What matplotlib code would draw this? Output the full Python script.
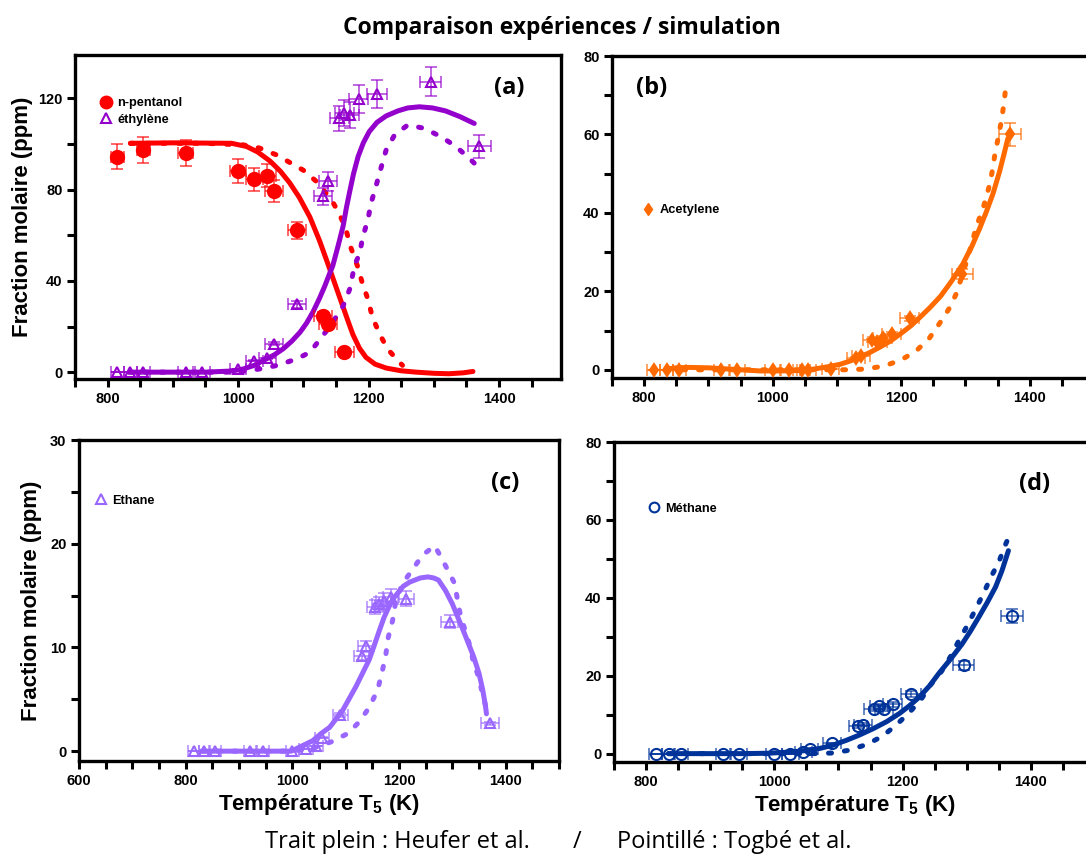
import numpy as np
import matplotlib
matplotlib.use('Agg')
import matplotlib.pyplot as plt
from matplotlib.ticker import MultipleLocator
from matplotlib.lines import Line2D

# Experimental temperatures (K)
T_exp = [815, 835, 855, 920, 945, 1000, 1025, 1045, 1055, 1090, 1130, 1138,
         1155, 1163, 1171, 1185, 1213, 1295, 1370]

# Measured mole fractions (ppm)
T_pentanol = [815, 855, 920, 1000, 1025, 1045, 1055, 1090, 1130, 1138, 1163]
pentanol = [94.5, 97.4, 96.0, 88.0, 84.6, 86.1, 79.5, 62.1, 24.7, 21.1, 8.7]
ethylene = [0, 0, 0, 0, 0, 1.5, 5.0, 6.0, 12.4, 29.8, 77.0, 83.6,
            111.3, 113.4, 112.7, 119.7, 121.9, 127.2, 98.9]
acetylene = [0, 0, 0, 0, 0, 0, 0, 0, 0, 0.3, 3.0, 3.6,
             7.5, 7.2, 8.1, 9.2, 13.1, 24.4, 60.0]
ethane = [0, 0, 0, 0, 0, 0, 0.2, 0.5, 1.3, 3.5, 9.2, 10.1,
          13.9, 14.2, 14.5, 14.9, 14.7, 12.5, 2.7]
methane = [0, 0, 0, 0, 0, 0, 0, 0.4, 1.3, 2.6, 7.0, 7.4,
           11.5, 12.1, 11.5, 12.7, 15.2, 22.7, 35.3]

# Simulations: solid = Heufer et al., dotted = Togbe et al.
T_pent_heufer = [835, 900, 990, 1013, 1030, 1049, 1065, 1079, 1094, 1110, 1125,
                 1137, 1145, 1153, 1161, 1169, 1176, 1186, 1196, 1210, 1227, 1250,
                 1273, 1300, 1323, 1345, 1360]
pent_heufer = [100.3, 100.5, 100.3, 98.9, 96.5, 92.5, 88.0, 83.0, 76.5, 68.0, 57.5,
               48.0, 41.5, 35.0, 28.5, 22.0, 16.5, 10.5, 6.5, 3.5, 1.8, 0.6,
               0.0, -0.5, -0.7, -0.3, 0.3]
T_pent_togbe = [835, 950, 1008, 1033, 1059, 1100, 1120, 1143, 1156, 1166, 1173,
                1183, 1191, 1199, 1206, 1217, 1229, 1247, 1252]
pent_togbe = [100.3, 100.3, 99.6, 98.2, 95.2, 88.5, 83.6, 75.6, 69.0, 61.8, 54.5,
              46.5, 38.5, 32.0, 24.0, 16.7, 10.2, 4.4, 3.0]
T_eth_heufer = [833, 950, 990, 1008, 1025, 1038, 1055, 1069, 1082, 1095, 1105,
                1115, 1125, 1133, 1140, 1145, 1153, 1161, 1166, 1171, 1177, 1184,
                1192, 1201, 1213, 1227, 1245, 1260, 1278, 1298, 1318, 1340, 1362]
eth_heufer = [0, 0, 0.5, 1.4, 3.0, 5.0, 7.5, 10.2, 13.5, 17.5, 21.5,
              26.5, 32.5, 37.8, 43.0, 46.5, 55.0, 64.0, 72.0, 79.0, 87.0, 94.5,
              100.5, 105.4, 109.5, 112.3, 114.5, 115.8, 116.3, 115.8, 114.5, 112.0, 109.0]
T_eth_togbe = [833, 1000, 1033, 1059, 1090, 1110, 1130, 1145, 1161, 1171, 1179,
               1186, 1191, 1199, 1204, 1212, 1219, 1227, 1240, 1260, 1285, 1311,
               1334, 1357, 1362]
eth_togbe = [0, 0, 1.4, 2.9, 5.8, 8.7, 16.0, 21.8, 29.0, 36.3, 47.3,
             51.6, 59.0, 66.9, 74.2, 82.2, 89.4, 97.4, 104.0, 108.3, 106.9, 103.2,
             98.9, 93.0, 91.6]
T_acet_heufer = [835, 850, 870, 900, 920, 950, 980, 1010, 1040, 1065, 1087,
                 1105, 1120, 1135, 1150, 1165, 1183, 1200, 1215, 1230, 1245, 1261,
                 1278, 1296, 1310, 1322, 1333, 1343, 1353, 1360, 1366]
acet_heufer = [0.2, 0.5, 0.6, 0.5, 0.3, 0.0, -0.3, -0.3, -0.2, 0.2, 0.8,
               1.4, 2.2, 3.2, 4.3, 5.6, 7.3, 9.3, 11.2, 13.5, 15.9, 18.7,
               22.5, 27.0, 31.5, 36.0, 40.5, 45.0, 50.5, 55.0, 59.0]
T_acet_togbe = [835, 1000, 1090, 1118, 1146, 1174, 1200, 1224, 1244, 1260, 1275,
                1286, 1304, 1317, 1328, 1336, 1341, 1346, 1351, 1356, 1360, 1363]
acet_togbe = [0, 0, 0, 0, 0.2, 1.0, 2.5, 4.9, 8.1, 11.9, 15.7,
              19.5, 28.8, 36.5, 41.5, 46.2, 50.0, 55.1, 59.2, 63.6, 68.0, 72.5]
T_c2h6_heufer = [830, 900, 998, 1038, 1054, 1070, 1094, 1119, 1144, 1153, 1163,
                 1172, 1181, 1189, 1197, 1208, 1220, 1240, 1254, 1265, 1274, 1287,
                 1300, 1320, 1340, 1350, 1357, 1362, 1364]
c2h6_heufer = [0, 0, 0, 1.0, 1.7, 2.3, 3.9, 6.2, 8.8, 10.1, 11.6,
               12.9, 13.9, 14.7, 15.2, 15.9, 16.3, 16.7, 16.8, 16.7, 16.5, 15.5,
               14.2, 11.7, 9.1, 7.5, 5.9, 4.4, 3.6]
T_c2h6_togbe = [830, 1000, 1040, 1073, 1104, 1125, 1144, 1160, 1169, 1175, 1180,
                1188, 1194, 1207, 1224, 1244, 1267, 1284, 1304, 1314, 1324, 1334,
                1340, 1347, 1357, 1364]
c2h6_togbe = [0, 0, 0.3, 0.9, 1.7, 2.8, 4.2, 5.9, 7.8, 9.2, 11.0,
              12.6, 14.5, 16.2, 17.4, 18.9, 19.8, 18.2, 16.2, 13.4, 11.6, 10.0,
              8.4, 7.5, 5.5, 4.0]
T_ch4_heufer = [835, 950, 990, 1024, 1050, 1070, 1090, 1112, 1133, 1154, 1175,
                1195, 1210, 1226, 1242, 1257, 1275, 1293, 1306, 1319, 1332, 1345,
                1355, 1365]
ch4_heufer = [0, 0, 0.1, 0.4, 0.8, 1.3, 2.1, 3.4, 4.8, 6.4, 8.2,
              10.3, 12.2, 14.5, 17.4, 20.7, 24.3, 28.2, 31.5, 35.1, 38.8, 42.8,
              47.0, 52.1]
T_ch4_togbe = [835, 1000, 1060, 1089, 1116, 1143, 1168, 1189, 1209, 1228, 1243,
               1261, 1275, 1288, 1301, 1313, 1326, 1338, 1350, 1361, 1364]
ch4_togbe = [0, 0, 0, 0.15, 0.85, 2.3, 4.4, 7.2, 10.3, 13.7, 17.5,
             21.2, 25.0, 29.1, 32.9, 36.8, 41.1, 45.4, 49.2, 53.9, 55.0]

RED = '#ff0000'
PURPLE = '#9400cc'
ORANGE = '#ff6a00'
LILAC = '#9966ff'
NAVY = '#003399'

W, H = 1086, 855
DOTS = (0, (0.6, 2.6))


def px_axes(fig, left, right, top, bottom):
    return fig.add_axes([left / W, 1 - bottom / H, (right - left) / W, (bottom - top) / H])


def draw_exp(ax, T, y, color, marker, ms, filled, rel_err):
    T = np.array(T, dtype=float)
    y = np.array(y, dtype=float)
    ax.errorbar(T, y, xerr=0.0125 * T, yerr=rel_err * y, fmt='none', ecolor=color,
                elinewidth=1.2, capsize=4, capthick=1.2, alpha=0.7, zorder=3)
    ax.plot(T, y, linestyle='none', marker=marker, ms=ms, color=color,
            mfc=color if filled else 'none', mew=1.5, zorder=4)


def draw_sim(ax, T1, y1, T2, y2, color):
    ax.plot(T1, y1, color=color, lw=3.6, solid_capstyle='round',
            solid_joinstyle='round', zorder=2)
    ax.plot(T2, y2, color=color, lw=3.6, linestyle=DOTS, dash_capstyle='round', zorder=2)


def style_axes(ax, xlim, ylim, ymaj, ymin):
    ax.set_xlim(xlim)
    ax.set_ylim(ylim)
    ax.xaxis.set_major_locator(MultipleLocator(200))
    ax.xaxis.set_minor_locator(MultipleLocator(50))
    ax.yaxis.set_major_locator(MultipleLocator(ymaj))
    ax.yaxis.set_minor_locator(MultipleLocator(ymin))
    ax.tick_params(which='both', direction='out', width=2.2, length=6, labelsize=10.5, pad=3)
    for lab in ax.get_xticklabels() + ax.get_yticklabels():
        lab.set_fontweight('bold')
    for s in ax.spines.values():
        s.set_linewidth(2.4)


def add_legend(ax, handles, x, y):
    ax.legend(handles=handles, loc='upper left', bbox_to_anchor=(x, y), frameon=False,
              prop={'weight': 'bold', 'size': 9.2}, handletextpad=0.4, handlelength=1.0,
              borderpad=0, borderaxespad=0, labelspacing=0.35)


def panel_tag(ax, x, y, tag):
    ax.text(x, y, tag, transform=ax.transAxes, ha='center', va='center',
            fontsize=17, family='Open Sans', fontweight='bold')


def main():
    plt.rcParams['font.family'] = ['Liberation Sans', 'DejaVu Sans']
    plt.rcParams['font.weight'] = 'bold'
    plt.rcParams['axes.labelweight'] = 'bold'
    plt.rcParams['mathtext.fontset'] = 'custom'
    plt.rcParams['mathtext.rm'] = 'Liberation Sans:bold'
    plt.rcParams['mathtext.it'] = 'Liberation Sans:bold'
    plt.rcParams['mathtext.bf'] = 'Liberation Sans:bold'
    plt.rcParams['mathtext.default'] = 'rm'

    fig = plt.figure(figsize=(W / 100, H / 100), dpi=100)

    # (a) n-pentanol and ethylene
    ax = px_axes(fig, 75, 561, 55, 379)
    draw_sim(ax, T_pent_heufer, pent_heufer, T_pent_togbe, pent_togbe, RED)
    draw_sim(ax, T_eth_heufer, eth_heufer, T_eth_togbe, eth_togbe, PURPLE)
    draw_exp(ax, T_pentanol, pentanol, RED, 'o', 9.5, True, 0.06)
    draw_exp(ax, T_exp, ethylene, PURPLE, '^', 7.5, False, 0.05)
    style_axes(ax, (750, 1495), (-3, 139), 40, 20)
    ax.set_ylabel('Fraction molaire (ppm)', fontsize=16, fontweight='bold')
    ax.yaxis.set_label_coords(-0.086, 0.5)
    add_legend(ax, [Line2D([], [], ls='none', marker='o', ms=9, color=RED, label='n-pentanol'),
                    Line2D([], [], ls='none', marker='^', ms=7, color=PURPLE, mfc='none',
                           mew=1.5, label='éthylène')], 0.05, 0.87)
    panel_tag(ax, 0.894, 0.898, '(a)')

    # (b) acetylene
    ax = px_axes(fig, 612, 1094, 56, 378)
    draw_sim(ax, T_acet_heufer, acet_heufer, T_acet_togbe, acet_togbe, ORANGE)
    draw_exp(ax, T_exp, acetylene, ORANGE, 'd', 6.5, True, 0.05)
    style_axes(ax, (750, 1500), (-2.1, 80), 20, 10)
    add_legend(ax, [Line2D([], [], ls='none', marker='d', ms=6.5, color=ORANGE,
                           label='Acetylene')], 0.062, 0.54)
    panel_tag(ax, 0.083, 0.9, '(b)')

    # (c) ethane
    ax = px_axes(fig, 79, 559, 440, 761)
    draw_sim(ax, T_c2h6_heufer, c2h6_heufer, T_c2h6_togbe, c2h6_togbe, LILAC)
    draw_exp(ax, T_exp, ethane, LILAC, '^', 7.5, False, 0.05)
    style_axes(ax, (600, 1500), (-0.95, 30), 10, 5)
    ax.set_ylabel('Fraction molaire (ppm)', fontsize=16, fontweight='bold')
    ax.yaxis.set_label_coords(-0.077, 0.5)
    ax.set_xlabel('Température T$_5$ (K)', fontsize=16, fontweight='bold', labelpad=3)
    add_legend(ax, [Line2D([], [], ls='none', marker='^', ms=7, color=LILAC, mfc='none',
                           mew=1.5, label='Ethane')], 0.032, 0.83)
    panel_tag(ax, 0.888, 0.866, '(c)')

    # (d) methane
    ax = px_axes(fig, 614, 1095, 442, 762)
    draw_sim(ax, T_ch4_heufer, ch4_heufer, T_ch4_togbe, ch4_togbe, NAVY)
    draw_exp(ax, T_exp, methane, NAVY, 'o', 8, False, 0.05)
    style_axes(ax, (750, 1500), (-2.15, 80), 20, 10)
    ax.set_xlabel('Température T$_5$ (K)', fontsize=16, fontweight='bold', labelpad=3)
    add_legend(ax, [Line2D([], [], ls='none', marker='o', ms=7, color=NAVY, mfc='none',
                           mew=1.5, label='Méthane')], 0.07, 0.81)
    panel_tag(ax, 0.875, 0.87, '(d)')

    fig.text(0.5175, 1 - 28 / H, 'Comparaison expériences / simulation', ha='center',
             va='center', fontsize=16.5, family='Open Sans', fontweight='bold')
    fig.text(530 / W, 1 - 842 / H, 'Trait plein : Heufer et al.', ha='right', va='center',
             fontsize=17, family='Open Sans', fontweight='normal')
    fig.text(577 / W, 1 - 842 / H, '/', ha='center', va='center',
             fontsize=17, family='Open Sans', fontweight='normal')
    fig.text(617 / W, 1 - 842 / H, 'Pointillé : Togbé et al.', ha='left', va='center',
             fontsize=17, family='Open Sans', fontweight='normal')

    fig.savefig('out.png', dpi=100)


if __name__ == '__main__':
    main()
